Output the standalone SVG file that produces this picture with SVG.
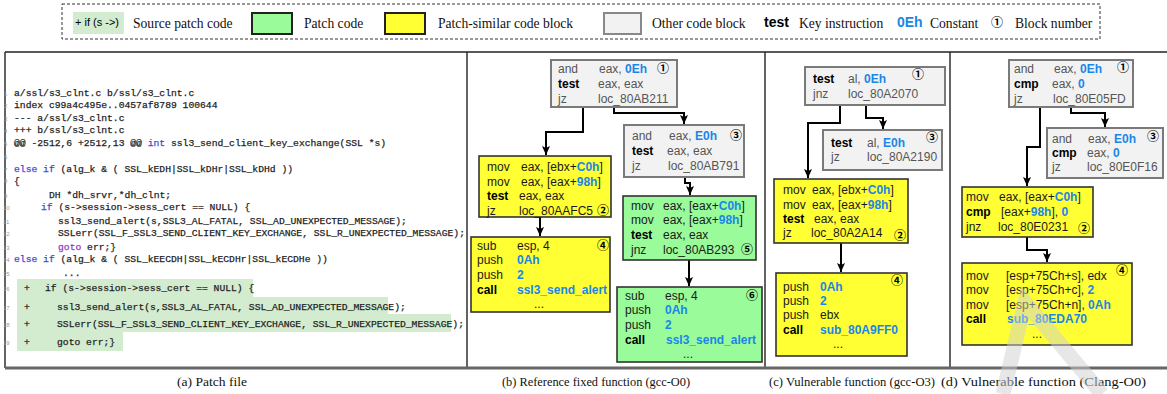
<svg xmlns="http://www.w3.org/2000/svg" width="1167" height="394" viewBox="0 0 1167 394">
<defs>
<marker id="ah" markerUnits="userSpaceOnUse" markerWidth="10" markerHeight="10" refX="9" refY="5" orient="auto">
<path d="M0,1 L9,5 L0,9 L2,5 z" fill="#000"/>
</marker>
<style>
.ser{font-family:"Liberation Serif","Times New Roman",serif;fill:#111}
.leg{font-size:13.6px}
.cap{font-size:12.5px}
.code{font-family:"Liberation Mono","Courier New",monospace;font-size:9.7px;fill:#111;stroke:#333;stroke-width:0.25}
.ln{font-family:"Liberation Sans",Arial,sans-serif;font-size:6px;fill:#9a9a9a}
.kw{fill:#3a4fd0;stroke:#3a4fd0}
.gt{fill:#9040c0;stroke:#9040c0}
.pbg{fill:#d3ebcf}
.asm{font-family:"Liberation Sans",Arial,sans-serif;font-size:12px;fill:#1a1a1a}
.gr{fill:#555}
.k{font-weight:bold;fill:#000}
.c{font-weight:bold;fill:#1a86e8}
.num{font-family:"Noto Sans CJK SC","DejaVu Sans",sans-serif;font-size:12px;font-weight:bold;fill:#000;text-anchor:middle}
.gblk{fill:#f2f2f2;stroke:#7a7a7a;stroke-width:2}
.yblk{fill:#ffff33;stroke:#333;stroke-width:1.6}
.pblk{fill:#99fb99;stroke:#333;stroke-width:1.6}
.conn{fill:none;stroke:#000;stroke-width:2;marker-end:url(#ah)}
.frame{fill:none;stroke:#222;stroke-width:1.4}
</style>
</defs>
<rect width="1167" height="394" fill="#fff"/>

<g id="legend">
<rect x="62" y="4" width="1038" height="35" fill="none" stroke="#333" stroke-width="1" stroke-dasharray="3,2"/>
<rect x="73" y="12" width="51" height="22" class="pbg"/>
<text x="75" y="26" font-family="Liberation Sans,Arial,sans-serif" font-size="11" fill="#000">+ if (s -&gt;)</text>
<text x="133" y="28" class="ser leg">Source patch code</text>
<rect x="252" y="13" width="40" height="21" fill="#99fb99" stroke="#222" stroke-width="2"/>
<text x="304" y="28" class="ser leg">Patch code</text>
<rect x="385" y="13" width="40" height="21" fill="#ffff33" stroke="#222" stroke-width="2"/>
<text x="438" y="28" class="ser leg">Patch-similar code block</text>
<rect x="604" y="13" width="37" height="21" fill="#f2f2f2" stroke="#888" stroke-width="2"/>
<text x="652" y="28" class="ser leg">Other code block</text>
<text x="764" y="27" font-family="Liberation Sans,Arial,sans-serif" font-size="14" font-weight="bold" fill="#000">test</text>
<text x="799" y="28" class="ser leg">Key instruction</text>
<text x="897" y="27" font-family="Liberation Sans,Arial,sans-serif" font-size="14" font-weight="bold" fill="#1a86e8">0Eh</text>
<text x="930" y="28" class="ser leg">Constant</text>
<text x="997" y="27" class="num" font-size="13">①</text>
<text x="1015" y="28" class="ser leg">Block number</text>
</g>

<g id="frames">
<line x1="5" y1="52" x2="1167" y2="52" class="frame"/>
<line x1="5" y1="52" x2="5" y2="368" class="frame"/>
<line x1="467" y1="52" x2="467" y2="368" class="frame"/>
<line x1="765" y1="52" x2="765" y2="368" class="frame"/>
<line x1="950" y1="52" x2="950" y2="368" class="frame"/>
<line x1="5" y1="368" x2="1167" y2="368" stroke="#666" stroke-width="3"/>
</g>

<g id="patch-file">
<rect x="17" y="279" width="236" height="18" class="pbg"/>
<rect x="17" y="297" width="371" height="17.5" class="pbg"/>
<rect x="17" y="314" width="434" height="18" class="pbg"/>
<rect x="17" y="332" width="106" height="19" class="pbg"/>
<text x="4" y="96" class="ln">1</text>
<text x="4" y="108" class="ln">2</text>
<text x="4" y="121" class="ln">3</text>
<text x="4" y="133" class="ln">4</text>
<text x="4" y="146" class="ln">5</text>
<text x="4" y="159" class="ln">6</text>
<text x="4" y="172" class="ln">7</text>
<text x="4" y="183" class="ln">8</text>
<text x="4" y="198" class="ln">9</text>
<text x="3" y="210" class="ln">10</text>
<text x="3" y="224" class="ln">11</text>
<text x="3" y="236" class="ln">12</text>
<text x="3" y="250" class="ln">13</text>
<text x="3" y="262" class="ln">14</text>
<text x="3" y="276" class="ln">15</text>
<text x="3" y="291" class="ln">16</text>
<text x="3" y="310" class="ln">17</text>
<text x="3" y="327" class="ln">18</text>
<text x="3" y="345" class="ln">19</text>
<text x="14" y="96" class="code">a/ssl/s3_clnt.c b/ssl/s3_clnt.c</text>
<text x="14" y="108" class="code">index c99a4c495e..0457af8789 100644</text>
<text x="14" y="121" class="code">--- a/ssl/s3_clnt.c</text>
<text x="14" y="133" class="code">+++ b/ssl/s3_clnt.c</text>
<text x="14" y="146" class="code" xml:space="preserve">@@ -2512,6 +2512,13 @@ <tspan class="kw">int</tspan> ssl3_send_client_key_exchange(SSL *s)</text>
<text x="14" y="172" class="code" xml:space="preserve"><tspan class="kw">else if</tspan> (alg_k &amp; ( SSL_kEDH|SSL_kDHr|SSL_kDHd ))</text>
<text x="14" y="184" class="code">{</text>
<text x="49" y="198" class="code">DH *dh_srvr,*dh_clnt;</text>
<text x="41" y="210" class="code" xml:space="preserve"><tspan class="kw">if</tspan> (s-&gt;session-&gt;sess_cert == NULL) {</text>
<text x="58" y="224" class="code">ssl3_send_alert(s,SSL3_AL_FATAL, SSL_AD_UNEXPECTED_MESSAGE);</text>
<text x="58" y="236" class="code">SSLerr(SSL_F_SSL3_SEND_CLIENT_KEY_EXCHANGE, SSL_R_UNEXPECTED_MESSAGE);</text>
<text x="58" y="250" class="code" xml:space="preserve"><tspan class="gt">goto</tspan> err;}</text>
<text x="14" y="262" class="code" xml:space="preserve"><tspan class="kw">else if</tspan> (alg_k &amp; ( SSL_kEECDH|SSL_kECDHr|SSL_kECDHe ))</text>
<text x="63" y="276" class="code">...</text>
<text x="24" y="291" class="code">+</text>
<text x="45" y="291" class="code">if (s-&gt;session-&gt;sess_cert == NULL) {</text>
<text x="24" y="310" class="code">+</text>
<text x="57" y="310" class="code">ssl3_send_alert(s,SSL3_AL_FATAL, SSL_AD_UNEXPECTED_MESSAGE);</text>
<text x="24" y="327" class="code">+</text>
<text x="57" y="327" class="code">SSLerr(SSL_F_SSL3_SEND_CLIENT_KEY_EXCHANGE, SSL_R_UNEXPECTED_MESSAGE);</text>
<text x="24" y="345" class="code">+</text>
<text x="57" y="345" class="code">goto err;}</text>
</g>

<g id="connectors">
<path d="M583,107 V132 H546 V155" class="conn"/>
<path d="M614,107 V113 H684 V124" class="conn"/>
<path d="M685,177 V183 H690 V195" class="conn"/>
<path d="M540,217 V236" class="conn"/>
<path d="M689,260 V286" class="conn"/>
<path d="M840,105 V123 H808 V178" class="conn"/>
<path d="M866,105 V118 H883 V129" class="conn"/>
<path d="M841,243 V272" class="conn"/>
<path d="M1040,107 V147 H1027 V186" class="conn"/>
<path d="M1071,107 V113 H1105 V127" class="conn"/>
<path d="M1027,237 V250 H1047 V262" class="conn"/>
</g>

<g id="b-block1">
<rect x="551" y="60" width="126" height="47" class="gblk"/>
<text x="558" y="73" class="asm gr">and</text><text x="599" y="73" class="asm gr">eax, <tspan class="c">0Eh</tspan></text>
<text x="558" y="88" class="asm k">test</text><text x="598" y="88" class="asm gr">eax, eax</text>
<text x="558" y="103" class="asm gr">jz</text><text x="598" y="103" class="asm gr">loc_80AB211</text>
<text x="663" y="73" class="num">①</text>
</g>
<g id="b-block3">
<rect x="624" y="125" width="120" height="52" class="gblk"/>
<text x="632" y="140" class="asm gr">and</text><text x="669" y="140" class="asm gr">eax, <tspan class="c">E0h</tspan></text>
<text x="632" y="155" class="asm k">test</text><text x="667" y="155" class="asm gr">eax, eax</text>
<text x="632" y="170" class="asm gr">jz</text><text x="668" y="170" class="asm gr">loc_80AB791</text>
<text x="736" y="140" class="num">③</text>
</g>
<g id="b-block2">
<rect x="479" y="156" width="132" height="61" class="yblk"/>
<text x="487" y="171" class="asm">mov</text><text x="521" y="171" class="asm">eax, [ebx+<tspan class="c">C0h</tspan>]</text>
<text x="487" y="186" class="asm">mov</text><text x="521" y="186" class="asm">eax, [eax+<tspan class="c">98h</tspan>]</text>
<text x="487" y="200" class="asm k">test</text><text x="519" y="200" class="asm">eax, eax</text>
<text x="487" y="215" class="asm">jz</text><text x="519" y="215" class="asm">loc_80AAFC5</text>
<text x="603" y="215" class="num">②</text>
</g>
<g id="b-block4">
<rect x="471" y="237" width="139" height="75" class="yblk"/>
<text x="477" y="250" class="asm">sub</text><text x="517" y="250" class="asm">esp, 4</text>
<text x="477" y="264" class="asm">push</text><text x="517" y="264" class="asm c">0Ah</text>
<text x="477" y="279" class="asm">push</text><text x="517" y="279" class="asm c">2</text>
<text x="477" y="294" class="asm k">call</text><text x="517" y="294" class="asm c">ssl3_send_alert</text>
<text x="539" y="308" class="asm" text-anchor="middle">...</text>
<text x="603" y="250" class="num">④</text>
</g>
<g id="b-block5">
<rect x="623" y="196" width="133" height="64" class="pblk"/>
<text x="631" y="210" class="asm">mov</text><text x="663" y="210" class="asm">eax, [eax+<tspan class="c">C0h</tspan>]</text>
<text x="631" y="224" class="asm">mov</text><text x="663" y="224" class="asm">eax, [eax+<tspan class="c">98h</tspan>]</text>
<text x="631" y="239" class="asm k">test</text><text x="663" y="239" class="asm">eax, eax</text>
<text x="631" y="254" class="asm">jnz</text><text x="663" y="254" class="asm">loc_80AB293</text>
<text x="747" y="254" class="num">⑤</text>
</g>
<g id="b-block6">
<rect x="617" y="287" width="145" height="75" class="pblk"/>
<text x="625" y="300" class="asm">sub</text><text x="665" y="300" class="asm">esp, 4</text>
<text x="625" y="314" class="asm">push</text><text x="665" y="314" class="asm c">0Ah</text>
<text x="625" y="329" class="asm">push</text><text x="665" y="329" class="asm c">2</text>
<text x="625" y="344" class="asm k">call</text><text x="666" y="344" class="asm c">ssl3_send_alert</text>
<text x="688" y="358" class="asm" text-anchor="middle">...</text>
<text x="752" y="300" class="num">⑥</text>
</g>

<g id="c-block1">
<rect x="805" y="67" width="140" height="38" class="gblk"/>
<text x="813" y="83" class="asm k">test</text><text x="848" y="83" class="asm gr">al, <tspan class="c">0Eh</tspan></text>
<text x="813" y="98" class="asm gr">jnz</text><text x="848" y="98" class="asm gr">loc_80A2070</text>
<text x="918" y="79" class="num">①</text>
</g>
<g id="c-block3">
<rect x="823" y="130" width="119" height="40" class="gblk"/>
<text x="831" y="147" class="asm k">test</text><text x="867" y="147" class="asm gr">al, <tspan class="c">E0h</tspan></text>
<text x="831" y="161" class="asm gr">jz</text><text x="867" y="161" class="asm gr">loc_80A2190</text>
<text x="932" y="142" class="num">③</text>
</g>
<g id="c-block2">
<rect x="774" y="179" width="134" height="64" class="yblk"/>
<text x="783" y="194" class="asm">mov</text><text x="812" y="194" class="asm">eax, [ebx+<tspan class="c">C0h</tspan>]</text>
<text x="783" y="209" class="asm">mov</text><text x="812" y="209" class="asm">eax, [eax+<tspan class="c">98h</tspan>]</text>
<text x="783" y="223" class="asm k">test</text><text x="814" y="223" class="asm">eax, eax</text>
<text x="783" y="237" class="asm">jz</text><text x="811" y="237" class="asm">loc_80A2A14</text>
<text x="900" y="240" class="num">②</text>
</g>
<g id="c-block4">
<rect x="776" y="273" width="131" height="83" class="yblk"/>
<text x="783" y="291" class="asm">push</text><text x="820" y="291" class="asm c">0Ah</text>
<text x="783" y="305" class="asm">push</text><text x="820" y="305" class="asm c">2</text>
<text x="783" y="319" class="asm">push</text><text x="820" y="319" class="asm">ebx</text>
<text x="783" y="334" class="asm k">call</text><text x="820" y="334" class="asm c">sub_80A9FF0</text>
<text x="838" y="348" class="asm" text-anchor="middle">...</text>
<text x="897" y="285" class="num">④</text>
</g>

<g id="d-block1">
<rect x="1009" y="60" width="124" height="47" class="gblk"/>
<text x="1014" y="73" class="asm gr">and</text><text x="1054" y="73" class="asm gr">eax, <tspan class="c">0Eh</tspan></text>
<text x="1014" y="88" class="asm k">cmp</text><text x="1052" y="88" class="asm gr">eax, <tspan class="c">0</tspan></text>
<text x="1014" y="103" class="asm gr">jz</text><text x="1053" y="103" class="asm gr">loc_80E05FD</text>
<text x="1123" y="72" class="num">①</text>
</g>
<g id="d-block3">
<rect x="1047" y="128" width="116" height="50" class="gblk"/>
<text x="1052" y="143" class="asm gr">and</text><text x="1088" y="143" class="asm gr">eax, <tspan class="c">E0h</tspan></text>
<text x="1052" y="157" class="asm k">cmp</text><text x="1087" y="157" class="asm gr">eax, <tspan class="c">0</tspan></text>
<text x="1052" y="171" class="asm gr">jz</text><text x="1087" y="171" class="asm gr">loc_80E0F16</text>
<text x="1153" y="141" class="num">③</text>
</g>
<g id="d-block2">
<rect x="962" y="187" width="131" height="50" class="yblk"/>
<text x="966" y="201" class="asm">mov</text><text x="999" y="201" class="asm">eax, [eax+<tspan class="c">C0h</tspan>]</text>
<text x="966" y="216" class="asm k">cmp</text><text x="1001" y="216" class="asm">[eax+<tspan class="c">98h</tspan>], <tspan class="c">0</tspan></text>
<text x="966" y="231" class="asm">jnz</text><text x="998" y="231" class="asm">loc_80E0231</text>
<text x="1084" y="233" class="num">②</text>
</g>
<g id="d-block4">
<rect x="962" y="263" width="170" height="82" class="yblk"/>
<text x="966" y="280" class="asm">mov</text><text x="1006" y="280" class="asm">[esp+75Ch+s], edx</text>
<text x="966" y="294" class="asm">mov</text><text x="1006" y="294" class="asm">[esp+75Ch+c], <tspan class="c">2</tspan></text>
<text x="966" y="309" class="asm">mov</text><text x="1006" y="309" class="asm">[esp+75Ch+n], <tspan class="c">0Ah</tspan></text>
<text x="966" y="323" class="asm k">call</text><text x="1007" y="323" class="asm c">sub_80EDA70</text>
<text x="1037" y="338" class="asm" text-anchor="middle">...</text>
<text x="1122" y="275" class="num">④</text>
</g>

<g id="captions">
<text x="212" y="386" class="ser cap" text-anchor="middle" textLength="70" lengthAdjust="spacingAndGlyphs">(a) Patch file</text>
<text x="502" y="386" class="ser cap" textLength="188" lengthAdjust="spacingAndGlyphs">(b) Reference fixed function (gcc-O0)</text>
<text x="769" y="386" class="ser cap" textLength="166" lengthAdjust="spacingAndGlyphs">(c) Vulnerable function (gcc-O3)</text>
<text x="941" y="386" class="ser cap" textLength="205" lengthAdjust="spacingAndGlyphs">(d) Vulnerable function (Clang-O0)</text>
</g>

<path d="M1003,394 L1025,302 L1102,394" fill="none" stroke="#d0d0d0" stroke-width="15" stroke-linejoin="miter" opacity="0.5"/>
</svg>
